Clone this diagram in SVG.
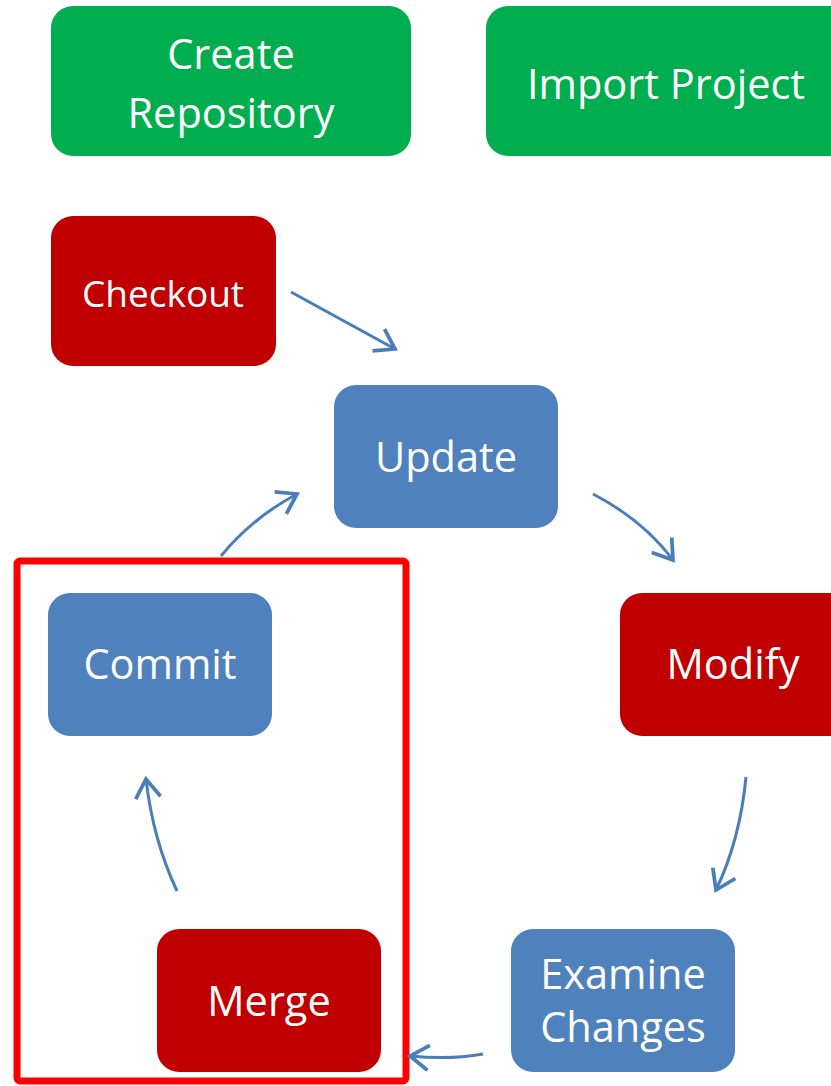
<svg xmlns="http://www.w3.org/2000/svg" width="831" height="1086" viewBox="0 0 831 1086">
<style>
.g{fill:#00AE4F}.r{fill:#C00000}.b{fill:#4F81BD}
text{font-family:"Open Sans","Liberation Sans",sans-serif;fill:#fff;text-anchor:middle;dominant-baseline:central;font-size:41.5px}
.c{fill:none;stroke:#4A7EBB;stroke-width:3;marker-end:url(#ah)}
</style>
<defs>
<marker id="ah" markerUnits="userSpaceOnUse" markerWidth="30" markerHeight="30" viewBox="-16 -12 20 24" refX="0" refY="0" orient="auto">
<path d="M-15,-10 L0,0 L-15,10" fill="none" stroke="#4A7EBB" stroke-width="3"/>
</marker>
</defs>
<rect x="0" y="0" width="831" height="1086" fill="#fff"/>
<g id="create"><rect class="g" x="51" y="6" width="360" height="150" rx="22"/><text x="231" y="53">Create</text><text x="231" y="112">Repository</text></g>
<g id="import"><rect class="g" x="486" y="6" width="370" height="150" rx="22"/><text x="666" y="83">Import Project</text></g>
<g id="checkout"><rect class="r" x="51" y="216" width="225" height="150" rx="22"/><text x="163" y="292" style="font-size:37px">Checkout</text></g>
<g id="update"><rect class="b" x="334" y="385" width="224" height="143" rx="22"/><text x="446" y="456">Update</text></g>
<g id="commit"><rect class="b" x="48" y="593" width="224" height="143" rx="22"/><text x="160" y="663">Commit</text></g>
<g id="modify"><rect class="r" x="620" y="593" width="240" height="143" rx="22"/><text x="733" y="663">Modify</text></g>
<g id="merge"><rect class="r" x="157" y="929" width="224" height="143" rx="22"/><text x="269" y="1000">Merge</text></g>
<g id="examine"><rect class="b" x="511" y="929" width="224" height="143" rx="22"/><text x="623" y="973">Examine</text><text x="623" y="1026">Changes</text></g>
<g id="group"><rect x="17" y="561" width="389" height="520" rx="3" fill="none" stroke="#FF0000" stroke-width="7"/></g>
<g id="connectors">
<path class="c" d="M291,292 L395,349"/>
<path class="c" d="M221,556 Q252,518 297,494"/>
<path class="c" d="M593,494 Q643,520 673,560"/>
<path class="c" d="M746,777 Q740,840 716,890"/>
<path class="c" d="M483,1054 Q450,1060 410,1056"/>
<path class="c" d="M177,891 Q153,840 146,779"/>
</g>
</svg>
